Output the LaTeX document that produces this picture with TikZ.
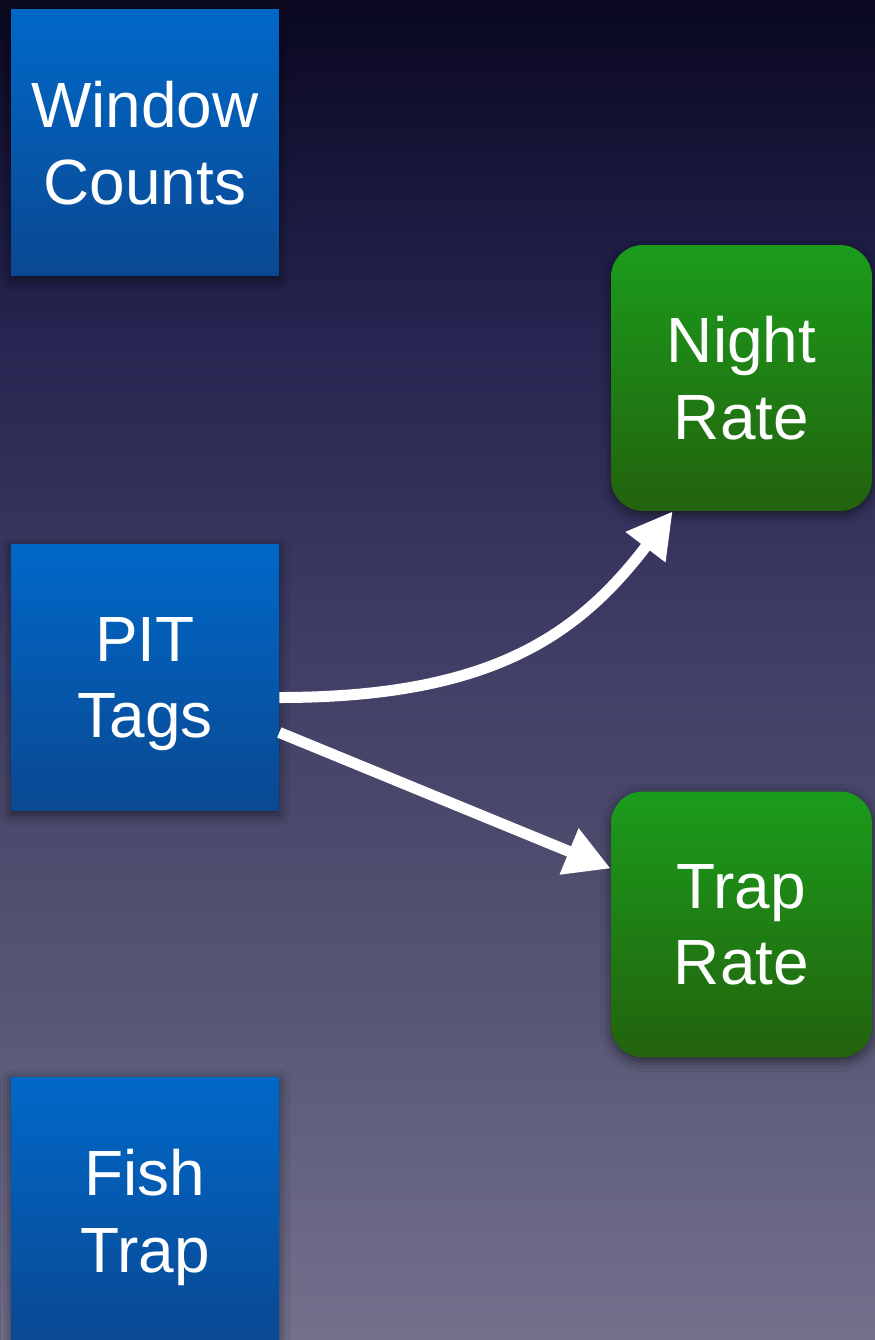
\documentclass[tikz,border=0pt]{standalone}
\usepackage{fontspec}
\setmainfont{Liberation Sans}
\usetikzlibrary{arrows.meta,calc,shadows.blur}

\definecolor{bluetop}{RGB}{0,104,200}
\definecolor{bluebot}{RGB}{10,72,146}
\definecolor{greentop}{RGB}{27,156,27}
\definecolor{greenbot}{RGB}{35,98,14}

% night-sky backdrop, dark navy at the top fading to a dusky grey-violet
\pgfdeclareverticalshading{nightsky}{100bp}{%
  color(0bp)=(rgb,255:red,115;green,112;blue,140);
  color(25bp)=(rgb,255:red,115;green,112;blue,140);
  color(38.4bp)=(rgb,255:red,85;green,85;blue,115);
  color(51.5bp)=(rgb,255:red,62;green,60;blue,100);
  color(62.7bp)=(rgb,255:red,38;green,36;blue,80);
  color(73bp)=(rgb,255:red,14;green,12;blue,40);
  color(75bp)=(rgb,255:red,10;green,9;blue,32);
  color(100bp)=(rgb,255:red,10;green,9;blue,32)}

\tikzset{
  label text/.style={text=white, align=center, text depth=0pt,
    font=\fontsize{36.4}{43.8}\selectfont},
  sourcebox/.style={label text, rectangle, inner sep=0pt,
    minimum width=5.36cm, minimum height=5.34cm,
    top color=bluetop, bottom color=bluebot,
    blur shadow={shadow xshift=0pt, shadow yshift=-2pt,
      shadow blur radius=6pt, shadow opacity=55}},
  ratebox/.style={label text, rectangle, rounded corners=0.64cm, inner sep=0pt,
    minimum width=5.22cm, minimum height=5.32cm,
    top color=greentop, bottom color=greenbot,
    blur shadow={shadow xshift=0pt, shadow yshift=-2pt,
      shadow blur radius=6pt, shadow opacity=55}},
  flow/.style={draw=white, line width=0.22cm,
    -{Triangle[length=0.9cm, width=0.94cm]}}
}

\begin{document}
\begin{tikzpicture}[x=0.02cm, y=-0.02cm]
  % backdrop
  \useasboundingbox (0,0) rectangle (875,1340);
  \shade[shading=nightsky] (0,0) rectangle (875,1340);

  % data sources
  \node[sourcebox] (wc)   at (145,142.5)  {Window\\Counts};
  \node[sourcebox] (pit)  at (145,677.5)  {PIT\\Tags};
  \node[sourcebox] (fish) at (145,1210.5) {Fish\\Trap};

  % estimated rates
  \node[ratebox] (night) at (741.5,378)   {Night\\Rate};
  \node[ratebox] (trap)  at (741.5,924.5) {Trap\\Rate};

  % connectors
  \draw[flow] ($(pit.east)+(0,20)$)
    .. controls +(210,0) and +(-95,125) .. ($(night.south west)+(62,0)$);
  \draw[flow] ($(pit.east)+(0,55)$) -- ($(trap.west)+(0,-56)$);
\end{tikzpicture}
\end{document}
